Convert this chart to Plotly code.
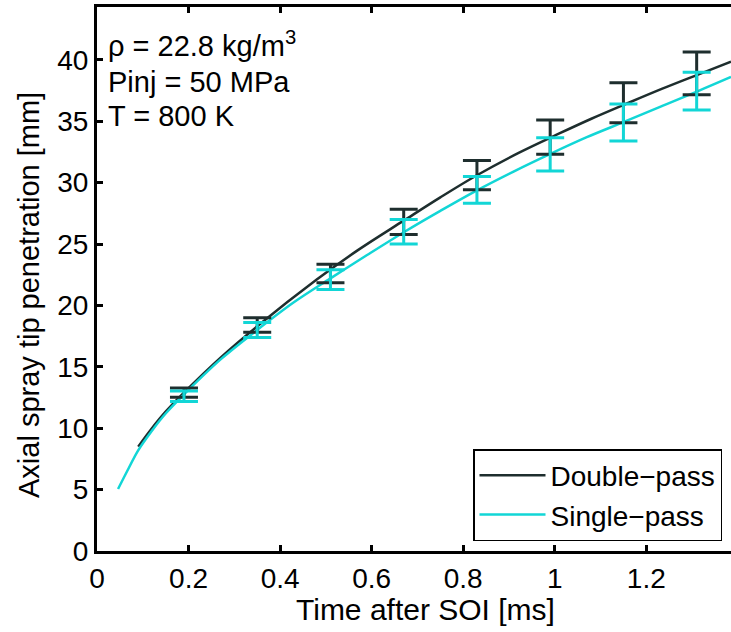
import plotly.graph_objects as go

# Smooth model curves
dp_x = [0.09, 0.12, 0.15, 0.19, 0.27, 0.35, 0.48, 0.57, 0.67, 0.75, 0.83, 0.92, 1.01, 1.08, 1.155, 1.235, 1.313, 1.385]
dp_y = [8.5, 10.0, 11.35, 12.9, 15.75, 18.3, 22.1, 24.5, 26.9, 28.8, 30.6, 32.4, 34.0, 35.2, 36.4, 37.65, 38.8, 39.85]
sp_x = [0.046, 0.07, 0.09, 0.12, 0.15, 0.19, 0.27, 0.35, 0.43, 0.51, 0.59, 0.672, 0.75, 0.829, 0.91, 0.988, 1.07, 1.155, 1.235, 1.313, 1.385]
sp_y = [5.05, 6.8, 8.2, 9.8, 11.2, 12.75, 15.6, 18.0, 20.25, 22.2, 24.1, 26.0, 27.7, 29.35, 30.9, 32.3, 33.7, 35.0, 36.25, 37.45, 38.6]

# Measurements with error bars
bar_x = [0.19, 0.35, 0.51, 0.67, 0.83, 0.99, 1.15, 1.31]
dp_mean = [12.9, 18.4, 22.6, 26.8, 30.6, 33.7, 36.5, 38.9]
dp_err = [0.37, 0.59, 0.75, 1.03, 1.19, 1.40, 1.63, 1.74]
sp_mean = [12.6, 18.0, 22.1, 26.0, 29.4, 32.3, 34.9, 37.45]
sp_err = [0.43, 0.61, 0.80, 0.99, 1.09, 1.36, 1.51, 1.53]

x_ticks = [0, 0.2, 0.4, 0.6, 0.8, 1.0, 1.2]
x_ticklabels = ["0", "0.2", "0.4", "0.6", "0.8", "1", "1.2"]
y_ticks = [0, 5, 10, 15, 20, 25, 30, 35, 40]

DARK = "#1e2e2e"
CYAN = "#12d6d6"
FONT = "Liberation Sans"

fig = go.Figure()
fig.add_trace(go.Scatter(x=dp_x, y=dp_y, mode="lines", line=dict(color=DARK, width=2.5, shape="spline"),
                         name="Double\u2212pass"))
fig.add_trace(go.Scatter(x=sp_x, y=sp_y, mode="lines", line=dict(color=CYAN, width=2.5, shape="spline"),
                         name="Single\u2212pass"))
fig.add_trace(go.Scatter(x=bar_x, y=dp_mean, mode="markers", marker=dict(size=1, color=DARK, opacity=0),
                         error_y=dict(type="data", array=dp_err, color=DARK, thickness=3, width=14),
                         showlegend=False, hoverinfo="skip"))
fig.add_trace(go.Scatter(x=bar_x, y=sp_mean, mode="markers", marker=dict(size=1, color=CYAN, opacity=0),
                         error_y=dict(type="data", array=sp_err, color=CYAN, thickness=3, width=14),
                         showlegend=False, hoverinfo="skip"))

plot_l, plot_r, plot_t, plot_b = 97, 731, 7, 551
pw = plot_r - plot_l
ph = plot_b - plot_t

def px_x(p):
    return (p - plot_l) / pw

def px_y(p):
    return (plot_b - p) / ph

ann_font = dict(family=FONT, size=29, color="black")
annotations = [
    dict(x=px_x(106), y=px_y(44), text="\u03c1 = 22.8 kg/m<sup>3</sup>"),
    dict(x=px_x(106), y=px_y(82), text="Pinj = 50 MPa"),
    dict(x=px_x(106), y=px_y(116), text="T = 800 K"),
]
for a in annotations:
    a.update(xref="paper", yref="paper", xanchor="left", yanchor="middle",
             showarrow=False, font=ann_font)
annotations.append(dict(x=px_x(425), y=px_y(609), xref="paper", yref="paper",
                        xanchor="center", yanchor="middle", showarrow=False,
                        text="Time after SOI [ms]", font=dict(family=FONT, size=30, color="black")))
annotations.append(dict(x=px_x(29), y=px_y(295), xref="paper", yref="paper",
                        xanchor="center", yanchor="middle", showarrow=False, textangle=-90,
                        text="Axial spray tip penetration [mm]", font=dict(family=FONT, size=29, color="black")))

fig.update_layout(
    template="none",
    width=731, height=632,
    margin=dict(l=plot_l, r=731 - plot_r, t=plot_t, b=632 - plot_b, pad=0),
    paper_bgcolor="white", plot_bgcolor="white",
    font=dict(family=FONT, size=28, color="black"),
    showlegend=True,
    legend=dict(x=px_x(473), y=px_y(541), xanchor="left", yanchor="bottom",
                bgcolor="white", bordercolor="black", borderwidth=1.5,
                font=dict(family=FONT, size=28, color="black"), tracegroupgap=0, itemwidth=66),
    xaxis=dict(range=[0, 1.385], tickvals=x_ticks, ticktext=x_ticklabels, automargin=False,
               showgrid=False, zeroline=False, showline=True, linecolor="black", linewidth=3,
               mirror="ticks", ticks="inside", ticklen=6, tickwidth=2.5, tickcolor="black",
               tickfont=dict(family=FONT, size=28, color="black")),
    yaxis=dict(range=[0, 44.3], tickvals=y_ticks, automargin=False,
               showgrid=False, zeroline=False, showline=True, linecolor="black", linewidth=3,
               mirror=False, ticks="inside", ticklen=6, tickwidth=2.5, tickcolor="black",
               tickfont=dict(family=FONT, size=28, color="black")),
    annotations=annotations,
)

fig.write_html("out.html",
               config={"displayModeBar": False},
               post_script="document.body.style.margin='0';document.body.style.overflow='hidden';")
